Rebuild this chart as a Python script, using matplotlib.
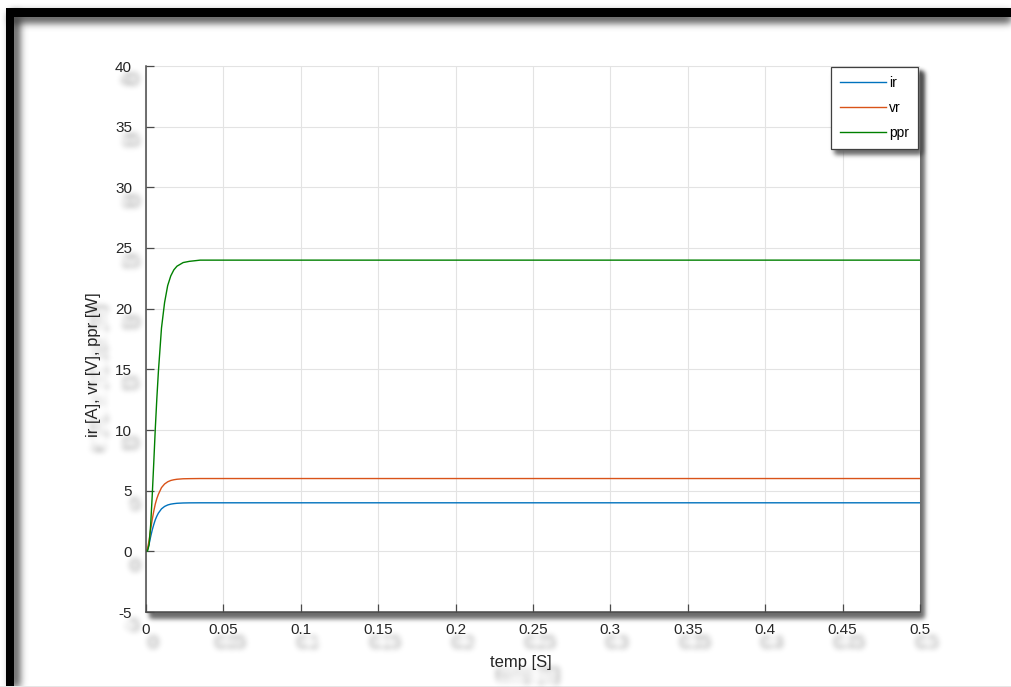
import numpy as np
import matplotlib
matplotlib.use("Agg")
import matplotlib.pyplot as plt
from matplotlib.patches import Rectangle
from matplotlib.transforms import IdentityTransform

plt.rcParams["font.family"] = ["Liberation Sans", "DejaVu Sans"]
plt.rcParams["axes.unicode_minus"] = False

# Step response samples: rotor current, voltage and power
t_s = [0, 0.001, 0.002, 0.003, 0.004, 0.005, 0.006, 0.007, 0.008, 0.010,
       0.012, 0.014, 0.016, 0.018, 0.020, 0.024, 0.028, 0.035, 0.05, 0.5]
ir = [0, 0.15, 0.6, 1.2, 1.75, 2.2, 2.6, 2.9, 3.15, 3.5,
      3.7, 3.82, 3.89, 3.93, 3.96, 3.985, 3.995, 4.0, 4.0, 4.0]
vr = [0, 0.22, 0.9, 1.8, 2.6, 3.3, 3.9, 4.35, 4.7, 5.25,
      5.55, 5.73, 5.84, 5.9, 5.94, 5.98, 5.99, 6.0, 6.0, 6.0]
ppr = [0, 0.03, 0.54, 2.16, 4.55, 7.26, 10.1, 12.6, 14.8, 18.4,
       20.5, 21.9, 22.7, 23.2, 23.5, 23.8, 23.9, 24.0, 24.0, 24.0]

series_labels = ["ir", "vr", "ppr"]
series_colors = ["#0072BD", "#D95319", "#008000"]
x_ticks = [0, 0.05, 0.1, 0.15, 0.2, 0.25, 0.3, 0.35, 0.4, 0.45, 0.5]
x_ticklabels = ["0", "0.05", "0.1", "0.15", "0.2", "0.25", "0.3", "0.35", "0.4", "0.45", "0.5"]
y_ticks = [-5, 0, 5, 10, 15, 20, 25, 30, 35, 40]


class GaussBlur:
    """agg filter: gaussian blur of the rendered artist."""
    def __init__(self, sigma):
        self.sigma = sigma

    def __call__(self, im, dpi):
        r = int(3 * self.sigma) + 1
        pad = r + 2
        p = np.pad(im, [(pad, pad), (pad, pad), (0, 0)], "constant")
        x = np.arange(-r, r + 1)
        k = np.exp(-x ** 2 / (2.0 * self.sigma ** 2))
        k /= k.sum()
        out = np.zeros_like(p)
        for i, w in zip(x, k):
            out += w * np.roll(p, i, axis=0)
        out2 = np.zeros_like(out)
        for i, w in zip(x, k):
            out2 += w * np.roll(out, i, axis=1)
        return out2, -pad, -pad


W, H = 1011, 687
fig = plt.figure(figsize=(W / 100, H / 100), dpi=100)
fig.patch.set_facecolor("white")

# axes placement (pixels)
L, R, T, B = 146, 920, 66, 612
ax = fig.add_axes([L / W, 1 - B / H, (R - L) / W, (B - T) / H])
ax.set_facecolor("white")

for vals, lab, col in zip([ir, vr, ppr], series_labels, series_colors):
    ax.plot(t_s, vals, color=col, lw=1.0, label=lab)

ax.set_xlim(0, 0.5)
ax.set_ylim(-5, 40)
ax.set_xticks(x_ticks)
ax.set_xticklabels(x_ticklabels)
ax.set_yticks(y_ticks)
ax.grid(True, color="#e3e3e3", lw=0.8)
ax.set_axisbelow(True)
for s in ["top", "right"]:
    ax.spines[s].set_visible(False)
for s in ["left", "bottom"]:
    ax.spines[s].set_color("#4a4a4a")
    ax.spines[s].set_linewidth(1.1)
ax.tick_params(axis="both", direction="in", length=6, width=0.9,
               color="#4a4a4a", labelcolor="#262626", labelsize=11)
ax.tick_params(axis="x", pad=8)
ax.tick_params(axis="y", pad=10)

ax.set_xlabel("temp [S]", fontsize=12, color="#262626")
ax.set_ylabel("ir [A], vr [V], ppr [W]", fontsize=12, color="#262626")
ax.xaxis.set_label_coords((521 - L) / (R - L), (B - 655) / (B - T))
ax.yaxis.set_label_coords((101 - L) / (R - L), (B - 365) / (B - T))

leg = ax.legend(loc="upper right", bbox_to_anchor=(918 / W, 1 - 67 / H),
                bbox_transform=fig.transFigure, borderaxespad=0,
                fontsize=10, handlelength=3.3, handletextpad=0.25,
                labelspacing=0.8, borderpad=0.65, fancybox=False,
                framealpha=1, edgecolor="#404040")
leg.get_frame().set_linewidth(0.9)

# drop shadow of the plot box
sh = Rectangle((L + 4, H - B - 6), R - L, B - T, transform=IdentityTransform(),
               facecolor="#6a6a6a", edgecolor="none", zorder=-1)
sh.set_agg_filter(GaussBlur(2.5))
fig.patches.append(sh)

# page frame: black bars with soft inner shadow
bars = [(6, 0, 8, H - 8), (6, H - 17, W - 6, 9)]
for (x0, y0, w, h) in bars:
    s = Rectangle((x0 + 5, y0 - 5), w, h, transform=IdentityTransform(),
                  facecolor="#555555", edgecolor="none", zorder=-3)
    s.set_agg_filter(GaussBlur(4))
    fig.patches.append(s)
for (x0, y0, w, h) in bars:
    fig.patches.append(Rectangle((x0, y0), w, h, transform=IdentityTransform(),
                                 facecolor="black", edgecolor="none", zorder=-2))
fig.patches.append(Rectangle((0, 0), W, 1, transform=IdentityTransform(),
                             facecolor="#e6e6e6", edgecolor="none", zorder=-2))

fig.canvas.draw()
renderer = fig.canvas.get_renderer()

# legend shadow
lb = leg.get_window_extent(renderer)
lsh = Rectangle((lb.x0 + 4, lb.y0 - 5), lb.width, lb.height,
                transform=IdentityTransform(), facecolor="#6a6a6a",
                edgecolor="none", zorder=4.5, clip_on=False)
lsh.set_agg_filter(GaussBlur(2.5))
ax.add_patch(lsh)

# soft shadows behind the labels
texts = list(ax.get_xticklabels()) + list(ax.get_yticklabels()) + \
    [ax.xaxis.label, ax.yaxis.label]
for tx in texts:
    if not tx.get_text():
        continue
    bb = tx.get_window_extent(renderer)
    cx, cy = (bb.x0 + bb.x1) / 2, (bb.y0 + bb.y1) / 2
    st = fig.text(cx + 7, cy - 13, tx.get_text(), transform=IdentityTransform(),
                  ha="center", va="center", rotation=tx.get_rotation(),
                  fontsize=tx.get_fontsize(), color="#9a9a9a", zorder=-0.5)
    st.set_agg_filter(GaussBlur(3.2))

fig.savefig("out.png", dpi=100)
